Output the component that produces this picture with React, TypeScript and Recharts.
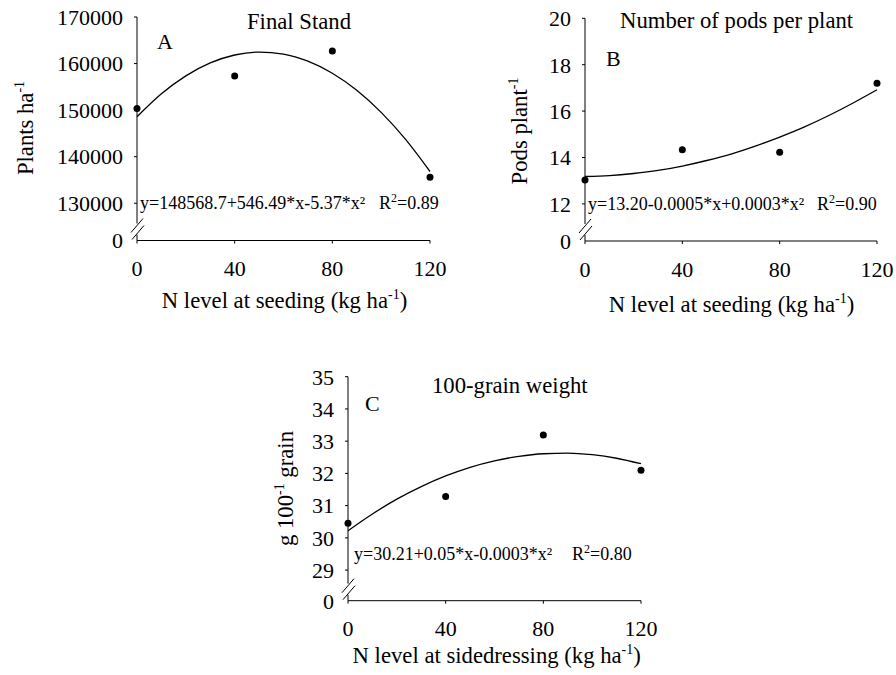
import React from 'react';
import { LineChart, Line, XAxis, YAxis, Customized } from 'recharts';

const FONT = '"Liberation Serif", "Times New Roman", Times, serif';
const TITLE_SIZE = 22.7;

// N rates (kg/ha) where observations were made
const nLevels = [0, 40, 80, 120];
const curveX = [0, 10, 20, 30, 40, 50, 60, 70, 80, 90, 100, 110, 120];

// A: Final stand (plants/ha)
const standObs = [150360, 157350, 162700, 135570];
const standFit = [148570, 153500, 157350, 160130, 161840, 162470, 162030, 160510, 157920, 154260, 149520, 143710, 136820];
const standTicks = [122000, 130000, 140000, 150000, 160000, 170000];

// B: Number of pods per plant
const podsObs = [13.03, 14.33, 14.23, 17.2];
const podsFit = [13.18, 13.22, 13.31, 13.44, 13.63, 13.87, 14.15, 14.49, 14.88, 15.31, 15.8, 16.34, 16.92];
const podsTicks = [10.4, 12, 14, 16, 18, 20];

// C: 100-grain weight (g)
const grainObs = [30.45, 31.28, 33.19, 32.1];
const grainFit = [30.22, 30.74, 31.2, 31.59, 31.92, 32.19, 32.39, 32.53, 32.61, 32.63, 32.58, 32.47, 32.3];
const grainTicks = [28.05, 29, 30, 31, 32, 33, 34, 35];

function buildRows(fit: number[], obs: number[]) {
  return curveX.map((x, i) => {
    const k = nLevels.indexOf(x);
    return { x, fit: fit[i], obs: k >= 0 ? obs[k] : null };
  });
}

const makeYTick = (low: number) => (props: any) => {
  const { x, y, payload } = props;
  const ax = x + 14;
  const v = payload.value;
  if (Math.abs(v - low) < 1e-9) {
    return (
      <g>
        <rect x={ax - 2} y={y - 17} width={4} height={11} fill="#fff" />
        <line x1={ax - 6} y1={y - 8} x2={ax + 6} y2={y - 22} stroke="#000" strokeWidth={1} />
        <line x1={ax - 5} y1={y - 1} x2={ax + 7} y2={y - 15} stroke="#000" strokeWidth={1} />
        <text x={ax - 14} y={y} dy="0.355em" textAnchor="end" fontSize={22} fill="#000" fontFamily={FONT}>0</text>
      </g>
    );
  }
  return (
    <g>
      <line x1={ax - 3} y1={y} x2={ax} y2={y} stroke="#000" strokeWidth={1} />
      <text x={ax - 14} y={y} dy="0.355em" textAnchor="end" fontSize={22} fill="#000" fontFamily={FONT}>{String(v)}</text>
    </g>
  );
};

type OverlayProps = {
  title: string; titleX: number; titleY: number;
  letter: string; letterX: number; letterY: number;
  eq: string; eqX: number; eqY: number; r2: string; r2X: number;
  yTitle: React.ReactNode; yTitleX: number; yTitleY: number;
  xTitle: string; xTitleX: number; xTitleY: number;
};

function Overlay(p: OverlayProps) {
  return (
    <g fontFamily={FONT} fill="#000">
      <text x={p.titleX} y={p.titleY} fontSize={TITLE_SIZE}>{p.title}</text>
      <text x={p.letterX} y={p.letterY} fontSize={22}>{p.letter}</text>
      <text x={p.eqX} y={p.eqY} fontSize={18}>{p.eq}</text>
      <text x={p.r2X} y={p.eqY} fontSize={18}>
        <tspan>R</tspan><tspan dy={-7} fontSize={12}>2</tspan><tspan dy={7}>{'=' + p.r2}</tspan>
      </text>
      <text x={p.yTitleX} y={p.yTitleY} fontSize={TITLE_SIZE} textAnchor="middle" transform={`rotate(-90, ${p.yTitleX}, ${p.yTitleY})`}>
        {p.yTitle}
      </text>
      <text x={p.xTitleX} y={p.xTitleY} fontSize={TITLE_SIZE} textAnchor="middle">
        <tspan>{p.xTitle + ' (kg ha'}</tspan><tspan dy={-9} fontSize={14}>-1</tspan><tspan dy={9}>)</tspan>
      </text>
    </g>
  );
}

type PanelProps = {
  left: number; top: number; width: number; height: number;
  margin: { top: number; right: number; bottom: number; left: number };
  yWidth: number; xHeight: number;
  rows: any[]; ticks: number[];
  overlay: OverlayProps;
};

function Panel(p: PanelProps) {
  const low = p.ticks[0];
  const high = p.ticks[p.ticks.length - 1];
  return (
    <div style={{ position: 'absolute', left: p.left, top: p.top }}>
      <LineChart width={p.width} height={p.height} data={p.rows} margin={p.margin} style={{ fontFamily: FONT }}>
        <XAxis
          type="number"
          dataKey="x"
          domain={[0, 120]}
          ticks={nLevels}
          interval={0}
          height={p.xHeight}
          tickSize={3}
          tickMargin={17}
          axisLine={{ stroke: '#000', strokeWidth: 1 }}
          tickLine={{ stroke: '#000', strokeWidth: 1 }}
          tick={{ fontSize: 22, fill: '#000', fontFamily: FONT }}
        />
        <YAxis
          type="number"
          domain={[low, high]}
          ticks={p.ticks}
          interval={0}
          width={p.yWidth}
          tickSize={3}
          tickMargin={11}
          tickLine={false}
          axisLine={{ stroke: '#000', strokeWidth: 1 }}
          tick={makeYTick(low)}
        />
        <Line
          type="monotone"
          dataKey="fit"
          stroke="#000"
          strokeWidth={1.3}
          dot={false}
          activeDot={false}
          isAnimationActive={false}
        />
        <Line
          dataKey="obs"
          stroke="none"
          dot={{ r: 3.5, fill: '#000', stroke: 'none' }}
          activeDot={false}
          isAnimationActive={false}
        />
        <Customized component={<Overlay {...p.overlay} />} />
      </LineChart>
    </div>
  );
}

export default function App() {
  return (
    <div style={{ position: 'absolute', left: 0, top: 0, width: 896, height: 675, background: '#fff', overflow: 'hidden' }}>
      <Panel
        left={0} top={0} width={450} height={320}
        margin={{ top: 17, right: 20, bottom: 19.5, left: 0 }}
        yWidth={137} xHeight={60}
        rows={buildRows(standFit, standObs)} ticks={standTicks}
        overlay={{
          title: 'Final Stand', titleX: 247, titleY: 29,
          letter: 'A', letterX: 157, letterY: 49,
          eq: 'y=148568.7+546.49*x-5.37*x²', eqX: 140, eqY: 209, r2: '0.89', r2X: 379,
          yTitle: [<tspan key="a">Plants ha</tspan>, <tspan key="b" dy={-9} fontSize={14}>-1</tspan>],
          yTitleX: 33, yTitleY: 128,
          xTitle: 'N level at seeding', xTitleX: 284.5, xTitleY: 308,
        }}
      />
      <Panel
        left={440} top={0} width={456} height={320}
        margin={{ top: 18.3, right: 19, bottom: 19, left: 0 }}
        yWidth={145} xHeight={60}
        rows={buildRows(podsFit, podsObs)} ticks={podsTicks}
        overlay={{
          title: 'Number of pods per plant', titleX: 180, titleY: 28,
          letter: 'B', letterX: 166, letterY: 66,
          eq: 'y=13.20-0.0005*x+0.0003*x²', eqX: 148, eqY: 210, r2: '0.90', r2X: 377,
          yTitle: [<tspan key="a">Pods plant</tspan>, <tspan key="b" dy={-9} fontSize={14}>-1</tspan>],
          yTitleX: 87, yTitleY: 131,
          xTitle: 'N level at seeding', xTitleX: 291.5, xTitleY: 312,
        }}
      />
      <Panel
        left={250} top={340} width={410} height={335}
        margin={{ top: 36.7, right: 19, bottom: 19.3, left: 0 }}
        yWidth={98} xHeight={55}
        rows={buildRows(grainFit, grainObs)} ticks={grainTicks}
        overlay={{
          title: '100-grain weight', titleX: 182, titleY: 53,
          letter: 'C', letterX: 115, letterY: 71,
          eq: 'y=30.21+0.05*x-0.0003*x²', eqX: 104, eqY: 220, r2: '0.80', r2X: 322,
          yTitle: [<tspan key="a">g 100</tspan>, <tspan key="b" dy={-9} fontSize={14}>-1</tspan>, <tspan key="c" dy={9}> grain</tspan>],
          yTitleX: 43, yTitleY: 148.5,
          xTitle: 'N level at sidedressing', xTitleX: 246.7, xTitleY: 323,
        }}
      />
    </div>
  );
}
